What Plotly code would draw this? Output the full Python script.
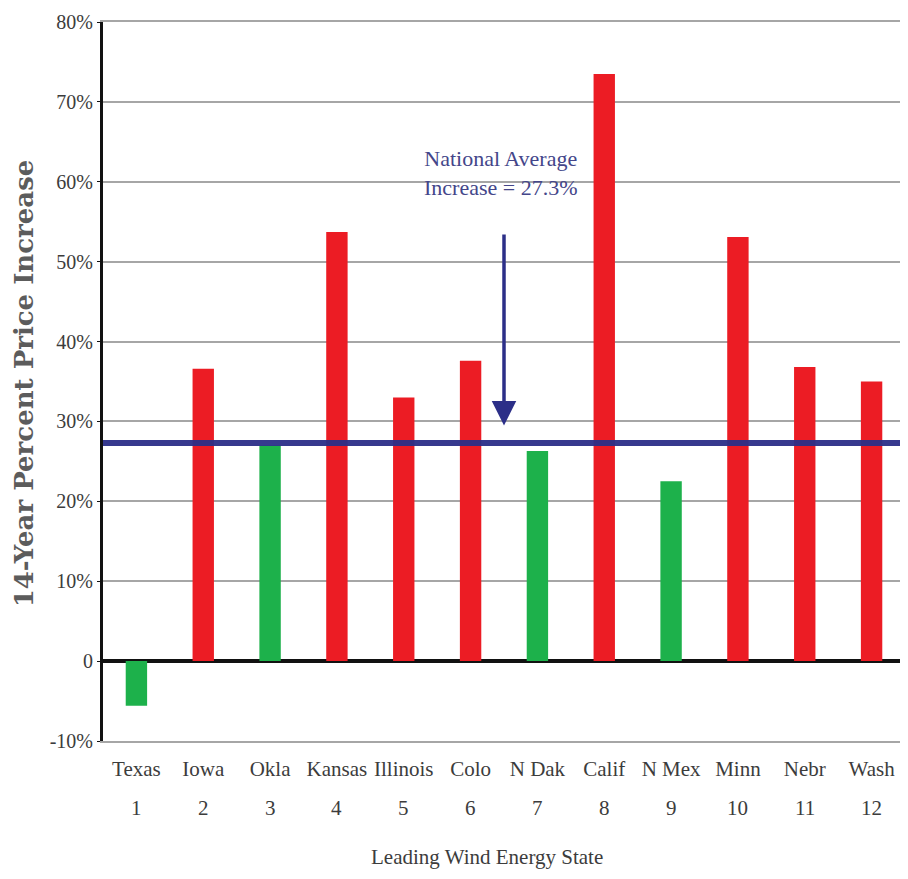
import plotly.graph_objects as go

states = ["Texas", "Iowa", "Okla", "Kansas", "Illinois", "Colo", "N Dak",
          "Calif", "N Mex", "Minn", "Nebr", "Wash"]
ranks = ["1", "2", "3", "4", "5", "6", "7", "8", "9", "10", "11", "12"]
increase = [-5.6, 36.6, 27.0, 53.7, 33.0, 37.6, 26.3, 73.5, 22.5, 53.1, 36.8, 35.0]
national_avg = 27.3
y_tickvals = [-10, 0, 10, 20, 30, 40, 50, 60, 70, 80]
y_ticktext = ["-10%", "0", "10%", "20%", "30%", "40%", "50%", "60%", "70%", "80%"]

RED = "#ec1c24"
GREEN = "#1db14b"
NAVY = "#2c2f88"
TEXT = "#3c3c3c"
GRID = "#a6a6a6"
SERIF = "Liberation Serif, Times New Roman, serif"

colors = [RED if v > national_avg else GREEN for v in increase]
xs = list(range(len(states)))

fig = go.Figure()
fig.add_trace(go.Bar(x=xs, y=increase, marker_color=colors, marker_line_width=0,
                     width=0.32, showlegend=False, hoverinfo="skip"))

# national average line
fig.add_shape(type="line", xref="paper", x0=0, x1=1, yref="y",
              y0=national_avg, y1=national_avg,
              line=dict(color=NAVY, width=6), layer="above", opacity=0.95)

annotations = []
# rank numbers under state names
for x, r in zip(xs, ranks):
    annotations.append(dict(x=x, xref="x", y=-0.093, yref="paper", text=r,
                            showarrow=False, yanchor="middle",
                            font=dict(family=SERIF, size=21, color=TEXT)))
# arrow
annotations.append(dict(x=5.5, y=29.5, xref="x", yref="y", ax=5.5, ay=53.6,
                        axref="x", ayref="y", showarrow=True, arrowhead=2,
                        arrowsize=1.4, arrowwidth=3.5, arrowcolor=NAVY, text=""))
# label text
annotations.append(dict(x=5.45, y=61.1, xref="x", yref="y",
                        text="National Average<br>Increase = 27.3%",
                        showarrow=False, align="center", yanchor="middle",
                        font=dict(family=SERIF, size=22, color="#44468a")))
# x title
annotations.append(dict(x=0.479, y=-0.162, xref="paper", yref="paper",
                        text="Leading Wind Energy State", showarrow=False,
                        yanchor="middle",
                        font=dict(family=SERIF, size=21, color=TEXT)))
# y title
annotations.append(dict(x=-0.098, y=0.498, xref="paper", yref="paper",
                        text="<b>14-Year Percent Price Increase</b>",
                        textangle=-90, showarrow=False,
                        xanchor="center", yanchor="middle",
                        font=dict(family="DejaVu Serif, serif", size=26, color="#5c5c5c")))

fig.update_layout(
    width=900, height=871,
    margin=dict(l=95, r=3, t=12, b=138),
    paper_bgcolor="white", plot_bgcolor="white",
    bargap=0.5,
    annotations=annotations,
    xaxis=dict(tickmode="array", tickvals=xs, ticktext=states,
               range=[-0.5, len(states) - 0.5], showgrid=False,
               showline=True, mirror=True, linecolor=GRID, linewidth=2,
               zeroline=False, ticks="",
               ticklabelstandoff=8,
               tickfont=dict(family=SERIF, size=21, color=TEXT)),
    yaxis=dict(range=[-10, 80], tickmode="array", tickvals=y_tickvals,
               ticktext=y_ticktext, showgrid=True, gridcolor=GRID,
               gridwidth=2, zeroline=True, zerolinecolor="#111111",
               zerolinewidth=4, showline=True, linecolor="#111111",
               linewidth=3, ticks="outside", ticklen=3, tickcolor="#111111",
               tickfont=dict(family=SERIF, size=20, color=TEXT)),
)

fig.write_html("out.html")
